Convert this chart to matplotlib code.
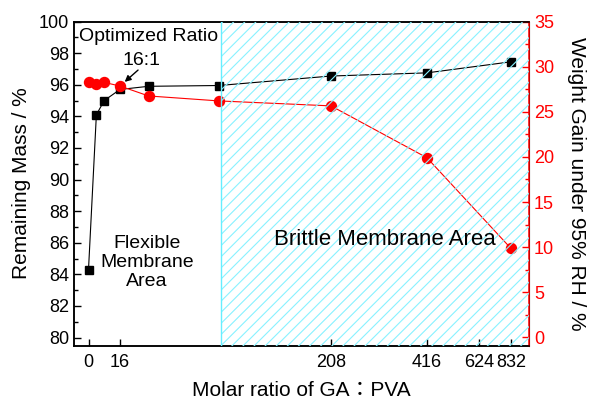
import numpy as np
import matplotlib
matplotlib.use('Agg')
import matplotlib.pyplot as plt
from matplotlib.ticker import MultipleLocator, FixedLocator

plt.rcParams['font.family'] = ['Liberation Sans', 'Noto Sans CJK TC', 'DejaVu Sans']
plt.rcParams['hatch.linewidth'] = 0.8

# molar ratio GA:PVA and the two measured series
ratio = [0, 4, 8, 16, 42, 106, 208, 416, 832]
mass = [84.3, 94.1, 95.0, 95.7, 95.9, 95.95, 96.55, 96.75, 97.45]
gain = [28.3, 28.1, 28.25, 27.85, 26.75, 26.2, 25.65, 19.9, 9.85]
xticks = [0, 16, 208, 416, 624, 832]
brittle_from = 108

# uneven x axis: piecewise linear between these ratio values
knot_v = np.array([-1000, -7.5, 0, 16, 208, 416, 624, 832, 942, 20000])
knot_u = np.array([74 - 992.5 * 1.97, 74, 88.5, 120, 331, 427, 479, 511, 529,
                   529 + 19058 * 0.154])


def fwd(x):
    return np.interp(x, knot_v, knot_u)


def inv(u):
    return np.interp(u, knot_u, knot_v)


fig = plt.figure(figsize=(5.95, 4.03), dpi=100)
ax = fig.add_axes([74 / 595, 1 - 345.5 / 403, 455 / 595, 324 / 403])
ax.set_xscale('function', functions=(fwd, inv))
ax.set_xlim(-7.5, 942)
ax.set_ylim(79.5, 100)

ax.plot(ratio, mass, color='black', lw=0.8, marker='s', ms=6.3, zorder=2)

ax2 = ax.twinx()
ax2.set_ylim(-0.9, 35)
ax2.plot(ratio, gain, color='red', lw=0.8, marker='o', ms=7.2, zorder=2)

# hatched brittle region, drawn over the data
ax2.axvspan(brittle_from, 942, facecolor='none', edgecolor='#88f2ff',
            hatch='///', lw=0, zorder=3)
ax2.axvline(brittle_from, color='#66eeff', lw=1.0, zorder=3)

ax.xaxis.set_major_locator(FixedLocator(xticks))
ax.xaxis.set_minor_locator(FixedLocator([]))
ax.set_xticklabels([str(v) for v in xticks])
ax.yaxis.set_major_locator(MultipleLocator(2))
ax.yaxis.set_minor_locator(MultipleLocator(1))
ax2.yaxis.set_major_locator(MultipleLocator(5))
ax2.yaxis.set_minor_locator(MultipleLocator(2.5))

ax.tick_params(axis='both', which='both', direction='in', labelsize=13, width=1)
ax.tick_params(axis='both', which='major', length=5)
ax.tick_params(axis='both', which='minor', length=3)
ax.tick_params(axis='x', top=False, pad=6)
ax.tick_params(axis='y', right=False)
ax2.tick_params(axis='y', which='both', direction='in', colors='red',
                labelsize=13, width=1)
ax2.tick_params(axis='y', which='major', length=5)
ax2.tick_params(axis='y', which='minor', length=3)

for s in ['left', 'bottom', 'top']:
    ax.spines[s].set_linewidth(1.1)
    ax2.spines[s].set_linewidth(1.1)
ax2.spines['right'].set_color('red')
ax2.spines['right'].set_linewidth(1.1)

ax.set_xlabel('Molar ratio of GA：PVA', fontsize=15, labelpad=7)
ax.set_ylabel('Remaining Mass / %', fontsize=15, labelpad=6)
ax2.set_ylabel('Weight Gain under 95% RH / %', fontsize=15, rotation=270,
               labelpad=23)

ax2.text(0.163, 0.955, 'Optimized Ratio', transform=ax.transAxes,
         fontsize=14, ha='center', va='center', zorder=5)
ax2.text(0.149, 0.881, '16:1', transform=ax.transAxes,
         fontsize=14, ha='center', va='center', zorder=5)
ax2.annotate('', xy=(ratio[3], gain[3]), xytext=(13, 11.5),
             textcoords='offset points',
             arrowprops=dict(arrowstyle='-|>', color='black', lw=1,
                             mutation_scale=9, shrinkA=0, shrinkB=4.5),
             zorder=5)
ax2.text(0.160, 0.255, 'Flexible\nMembrane\nArea', transform=ax.transAxes,
         fontsize=14, ha='center', va='center', linespacing=1.15, zorder=5)
ax2.text(0.684, 0.326, 'Brittle Membrane Area', transform=ax.transAxes,
         fontsize=16, ha='center', va='center', zorder=5)

fig.savefig('out.png', dpi=100)
